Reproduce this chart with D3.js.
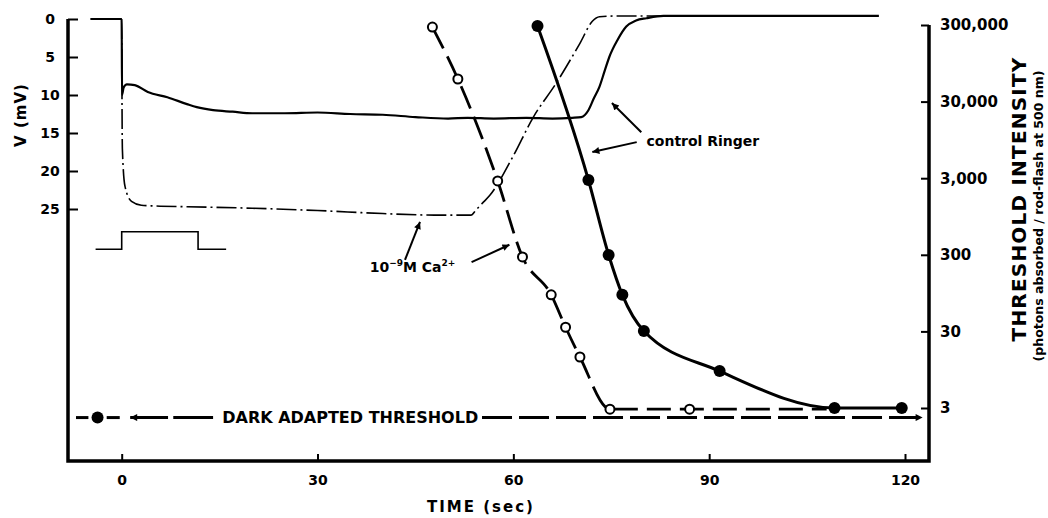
<!DOCTYPE html>
<html>
<head>
<meta charset="utf-8">
<script src="https://cdn.jsdelivr.net/npm/d3@7"></script>
<style>
  body { margin: 0; background: #fff; }
  text { font-family: "DejaVu Sans", sans-serif; font-weight: bold; fill: #000; }
</style>
</head>
<body>
<svg id="chart" width="1048" height="518"></svg>
<script>
// voltage traces: time (s) and hyperpolarisation (mV)
const ringerT = [-4.8, 0, 0.05, 0.3, 0.8, 2, 4, 7, 10, 11.5, 14, 17, 20, 25, 30, 35, 40, 45, 50, 53, 57, 62, 66, 69, 70.4, 71.5, 72.3, 73.2, 74.0, 74.7, 76, 77.3, 78.8, 80.4, 83, 90, 100, 110, 116];
const ringerV = [0, 0, 10, 9, 8.6, 8.7, 9.6, 10.3, 11.2, 11.6, 12.0, 12.2, 12.4, 12.4, 12.3, 12.5, 12.6, 12.9, 13.1, 13.0, 13.1, 13.0, 13.1, 13.0, 12.9, 12.0, 10.5, 8.9, 6.8, 5.0, 2.7, 1.0, 0.2, -0.1, -0.4, -0.4, -0.4, -0.4, -0.4];
const caT = [0, 0.1, 0.5, 1.5, 3, 5, 10, 20, 30, 40, 48, 53.5, 54.3, 55.3, 56.4, 60, 63, 66.6, 70.2, 72.1, 73.2, 76, 90, 105, 116];
const caV = [0, 17, 22, 24, 24.5, 24.6, 24.7, 24.9, 25.2, 25.6, 25.8, 25.8, 25.1, 24.2, 23.2, 18, 13.0, 8.4, 3.2, 0.3, -0.3, -0.4, -0.4, -0.4, -0.4];
const stimT = [-4, 0, 0, 11.7, 11.7, 16];
const stimV = [30.3, 30.3, 28, 28, 30.3, 30.3];

// thresholds (photons absorbed / rod-flash)
const ringerThrT = [63.7, 71.5, 74.6, 76.7, 80.0, 91.6, 109.2, 119.5];
const ringerThr = [291000, 2840, 298, 90, 30.4, 9.1, 3, 3];
const caThrT = [47.6, 51.5, 57.6, 61.4, 65.8, 68.0, 70.2, 74.8, 87.0];
const caThr = [282000, 59200, 2760, 281, 90, 34, 13.9, 2.9, 2.9];
const caTail = [108, 2.9];
const darkT = -3.7, darkThr = 2.25;

const timeTicks = [0, 30, 60, 90, 120];
const vTicks = [0, 5, 10, 15, 20, 25];
const thrTicks = [3, 30, 300, 3000, 30000, 300000];

const frame = { left: 68, right: 929, bottom: 461 };

const svg = d3.select("#chart");

const x = d3.scaleLinear().domain([0, 120]).range([121.7, 905]);
const yV = d3.scaleLinear().domain([0, 25]).range([19, 209]);
const yT = d3.scaleLog().domain([3, 300000]).range([408, 25]);

svg.append("defs").append("marker")
    .attr("id", "head")
    .attr("viewBox", "0 0 10 10")
    .attr("refX", 10).attr("refY", 5)
    .attr("markerWidth", 11).attr("markerHeight", 7)
    .attr("markerUnits", "userSpaceOnUse")
    .attr("orient", "auto")
    .append("path").attr("d", "M0,0L10,5L0,10Z").attr("fill", "#000");

// frame
svg.append("path")
    .attr("d", `M${frame.left},${yV(0)}V${frame.bottom}H${frame.right}V${yT(300000)}`)
    .attr("fill", "none").attr("stroke", "#000").attr("stroke-width", 3.5);

// left voltage axis
const gl = svg.append("g").attr("transform", `translate(${frame.left},0)`)
    .call(d3.axisLeft(yV).tickValues(vTicks).tickSizeInner(-10).tickSizeOuter(0).tickPadding(10));
gl.select(".domain").remove();
gl.selectAll("line").attr("stroke-width", 2);
gl.selectAll("text").attr("text-anchor", "middle").attr("x", -18).style("font-size", "14px");

// bottom time axis
const gb = svg.append("g").attr("transform", `translate(0,${frame.bottom})`)
    .call(d3.axisBottom(x).tickValues(timeTicks).tickSizeInner(-7).tickSizeOuter(0).tickPadding(14));
gb.select(".domain").remove();
gb.selectAll("line").attr("stroke-width", 2);
gb.selectAll("text").style("font-size", "14px");

// right threshold axis
const gr = svg.append("g").attr("transform", `translate(${frame.right},0)`)
    .call(d3.axisRight(yT).tickValues(thrTicks).tickFormat(d3.format(",")).tickSizeInner(-8).tickSizeOuter(0).tickPadding(11));
gr.select(".domain").remove();
gr.selectAll("line").attr("stroke-width", 2);
gr.selectAll("text").style("font-size", "15px");

// axis titles
svg.append("text").attr("transform", "translate(26,115) rotate(-90)")
    .attr("text-anchor", "middle").style("font-size", "15px").style("letter-spacing", "1px").text("V (mV)");
svg.append("text").attr("transform", "translate(1026,199) rotate(-90)")
    .attr("text-anchor", "middle").style("font-size", "20px").style("letter-spacing", "1.2px").text("THRESHOLD INTENSITY");
svg.append("text").attr("transform", "translate(1043,216) rotate(-90)")
    .attr("text-anchor", "middle").style("font-size", "12.5px").text("(photons absorbed / rod-flash at 500 nm)");
svg.append("text").attr("x", 481).attr("y", 512)
    .attr("text-anchor", "middle").style("font-size", "15px").style("letter-spacing", "2px").text("TIME (sec)");

// voltage traces
const vLine = d3.line().x(d => x(d[0])).y(d => yV(d[1])).curve(d3.curveMonotoneX);
svg.append("path").datum(caT.map((t, i) => [t, caV[i]]))
    .attr("d", vLine).attr("fill", "none").attr("stroke", "#000")
    .attr("stroke-width", 1.6).attr("stroke-dasharray", "20,4,2,4");
svg.append("path").datum(ringerT.map((t, i) => [t, ringerV[i]]))
    .attr("d", vLine).attr("fill", "none").attr("stroke", "#000").attr("stroke-width", 2.2);
svg.append("path").datum(stimT.map((t, i) => [t, stimV[i]]))
    .attr("d", d3.line().x(d => x(d[0])).y(d => yV(d[1])))
    .attr("fill", "none").attr("stroke", "#000").attr("stroke-width", 1.6);

// threshold curves
const tLine = d3.line().x(d => x(d[0])).y(d => yT(d[1])).curve(d3.curveMonotoneX);
const caPts = caThrT.map((t, i) => [t, caThr[i]]);
const ringerPts = ringerThrT.map((t, i) => [t, ringerThr[i]]);

svg.append("path").datum(caPts.concat([caTail]))
    .attr("d", tLine).attr("fill", "none").attr("stroke", "#000")
    .attr("stroke-width", 2.8).attr("stroke-dasharray", "24,9");
svg.append("path").datum(ringerPts)
    .attr("d", tLine).attr("fill", "none").attr("stroke", "#000").attr("stroke-width", 3);

svg.selectAll(".ca").data(caPts).join("circle")
    .attr("cx", d => x(d[0])).attr("cy", d => yT(d[1])).attr("r", 4.5)
    .attr("fill", "#fff").attr("stroke", "#000").attr("stroke-width", 2);
svg.selectAll(".ringer").data(ringerPts).join("circle")
    .attr("cx", d => x(d[0])).attr("cy", d => yT(d[1])).attr("r", 6).attr("fill", "#000");

// dark adapted threshold
const yD = yT(darkThr);
const darkSegs = [[-7, -5.1], [-2.3, -0.3], [7.9, 14.0]];
svg.selectAll(".dseg").data(darkSegs).join("line")
    .attr("x1", d => x(d[0])).attr("x2", d => x(d[1])).attr("y1", yD).attr("y2", yD)
    .attr("stroke", "#000").attr("stroke-width", 3);
svg.append("line").attr("x1", x(7.1)).attr("x2", x(1.3)).attr("y1", yD).attr("y2", yD)
    .attr("stroke", "#000").attr("stroke-width", 3).attr("marker-end", "url(#head)");
svg.append("line").attr("x1", x(55.2)).attr("x2", x(122.7)).attr("y1", yD).attr("y2", yD)
    .attr("stroke", "#000").attr("stroke-width", 3).attr("stroke-dasharray", "30,7")
    .attr("marker-end", "url(#head)");
svg.append("circle").attr("cx", x(darkT)).attr("cy", yD).attr("r", 6).attr("fill", "#000");
svg.append("text").attr("x", x(15.4)).attr("y", yD + 5.5)
    .style("font-size", "16px").text("DARK ADAPTED THRESHOLD");

// annotations (time, mV)
const arrows = [
    [[79.6, 14.9], [75.1, 11.05]],
    [[78.9, 16.2], [72.1, 17.5]],
    [[43.4, 31.7], [45.7, 26.7]],
    [[53.6, 32.0], [59.4, 29.7]]
];
svg.selectAll(".arrow").data(arrows).join("line")
    .attr("x1", d => x(d[0][0])).attr("y1", d => yV(d[0][1]))
    .attr("x2", d => x(d[1][0])).attr("y2", d => yV(d[1][1]))
    .attr("stroke", "#000").attr("stroke-width", 2).attr("marker-end", "url(#head)");

svg.append("text").attr("x", x(80.4)).attr("y", yV(16.7))
    .style("font-size", "14px").text("control Ringer");

const ca = svg.append("text").attr("x", x(38.0)).attr("y", yV(33.3)).style("font-size", "14px");
ca.append("tspan").text("10");
ca.append("tspan").attr("dy", -6).style("font-size", "9px").text("−9");
ca.append("tspan").attr("dy", 6).text("M  Ca");
ca.append("tspan").attr("dy", -6).style("font-size", "9px").text("2+");
</script>
</body>
</html>
